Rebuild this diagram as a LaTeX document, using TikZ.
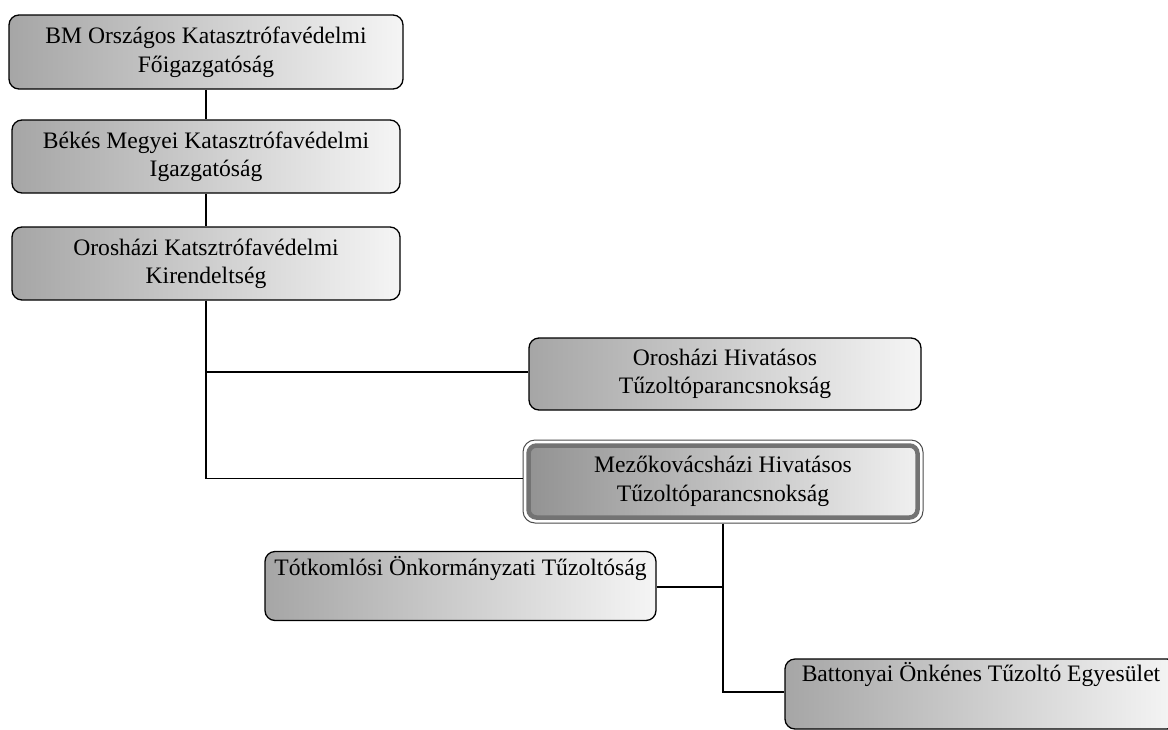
\documentclass[tikz,border=0pt]{standalone}
\usepackage{fontspec}
\setmainfont{Liberation Serif}
\begin{document}
\begin{tikzpicture}[x=1pt,y=-1pt,
  boxfont/.style={font=\fontsize{23.6}{28.5}\selectfont},
  box/.style={draw=black, line width=1.3pt, rounded corners=10pt,
    left color=gray!70, right color=white!96!black,
    boxfont, align=center, inner sep=0pt},
  outerbox/.style={draw=black!70, line width=1pt, rounded corners=12pt, fill=white, inner sep=0pt},
  innerbox/.style={draw=black!55, line width=4.5pt,
    rounded corners=8pt, left color=gray!85, right color=white!94!black,
    boxfont, align=center, inner sep=0pt},
  lbl/.style={boxfont, inner sep=0pt},
  conn/.style={draw=black, line width=1.8pt}]
\useasboundingbox (0,0) rectangle (1168,729);
\fill[white] (0,0) rectangle (1168,729);
\clip (0,0) rectangle (1168,729);

\node[box, minimum width=394pt, minimum height=74pt] (b1) at (206,52)
  {BM Országos Katasztrófavédelmi\\Főigazgatóság};
\node[box, minimum width=388pt, minimum height=73pt] (b2) at (206,156.5)
  {Békés Megyei Katasztrófavédelmi\\Igazgatóság};
\node[box, minimum width=388pt, minimum height=73pt] (b3) at (206,263.5)
  {Orosházi Katsztrófavédelmi\\Kirendeltség};
\node[box, minimum width=392pt, minimum height=72pt] (b4) at (725,374)
  {Orosházi Hivatásos\\Tűzoltóparancsnokság};
\node[outerbox, minimum width=400pt, minimum height=83pt] (b5) at (723,481.5) {};
\node[innerbox, minimum width=389pt, minimum height=72pt] (b5in) at (b5.center)
  {Mezőkovácsházi Hivatásos\\Tűzoltóparancsnokság};
\node[box, minimum width=391pt, minimum height=69pt] (b6) at (460.5,586) {};
\node[lbl, anchor=north] (t6) at ([yshift=-5pt]b6.north) {Tótkomlósi Önkormányzati Tűzoltóság};
\node[box, minimum width=392pt, minimum height=70pt] (b7) at (981,694) {};
\node[lbl, anchor=north] (t7) at ([yshift=-4pt]b7.north) {Battonyai Önkénes Tűzoltó Egyesület};

\draw[conn] (b1.south) -- (b2.north);
\draw[conn] (b2.south) -- (b3.north);
\draw[conn] (b3.south) |- ([yshift=2pt]b4.west);
\draw[conn] (b3.south) |- ([yshift=3pt]b5.west);
\draw[conn] (b5.south) |- ([yshift=-1pt]b6.east);
\draw[conn] (b5.south) |- ([yshift=2pt]b7.west);
\end{tikzpicture}
\end{document}
